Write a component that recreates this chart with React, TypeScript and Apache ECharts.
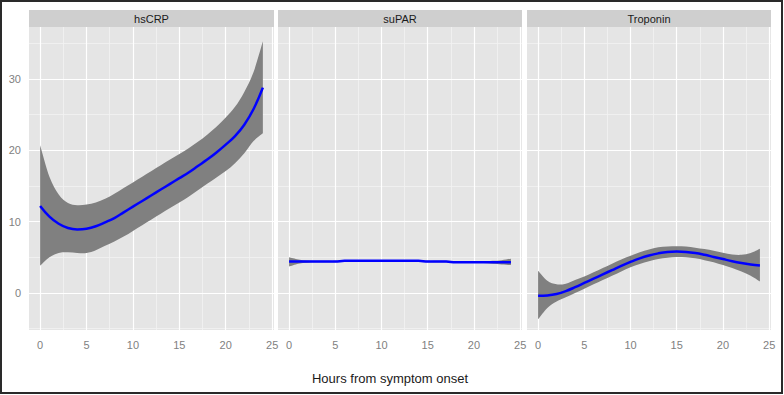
import React, { useEffect, useRef } from "react";
import * as echarts from "echarts";

const panels = ["hsCRP", "suPAR", "Troponin"];
const hours = [0, 1, 2, 3, 4, 5, 6, 7, 8, 9, 10, 11, 12, 13, 14, 15, 16, 17, 18, 19, 20, 21, 22, 23, 24];

const hsCRPFit = [12.2, 10.7, 9.7, 9.1, 8.9, 9.0, 9.35, 9.9, 10.5, 11.3, 12.1, 12.9, 13.7, 14.5, 15.3, 16.1, 16.9, 17.8, 18.7, 19.7, 20.8, 22.0, 23.6, 25.8, 28.8];
const hsCRPUpper = [20.7, 16.3, 13.8, 12.6, 12.3, 12.4, 12.7, 13.2, 13.9, 14.7, 15.5, 16.3, 17.1, 17.9, 18.7, 19.5, 20.3, 21.2, 22.2, 23.3, 24.6, 26.1, 28.2, 31.0, 35.3];
const hsCRPLower = [3.8, 5.0, 5.6, 5.7, 5.6, 5.6, 6.0, 6.6, 7.2, 7.9, 8.7, 9.5, 10.3, 11.1, 11.9, 12.7, 13.5, 14.4, 15.3, 16.2, 17.1, 18.2, 19.6, 21.3, 22.4];

const suPARFit = [4.4, 4.4, 4.4, 4.4, 4.4, 4.4, 4.5, 4.5, 4.5, 4.5, 4.5, 4.5, 4.5, 4.5, 4.5, 4.4, 4.4, 4.4, 4.3, 4.3, 4.3, 4.3, 4.3, 4.3, 4.3];
const suPARUpper = [5.0, 4.7, 4.55, 4.5, 4.5, 4.5, 4.6, 4.6, 4.6, 4.6, 4.6, 4.6, 4.6, 4.6, 4.6, 4.5, 4.5, 4.5, 4.4, 4.4, 4.4, 4.4, 4.5, 4.6, 4.8];
const suPARLower = [3.7, 4.1, 4.25, 4.3, 4.3, 4.3, 4.4, 4.4, 4.4, 4.4, 4.4, 4.4, 4.4, 4.4, 4.4, 4.3, 4.3, 4.3, 4.2, 4.2, 4.2, 4.2, 4.1, 4.0, 3.9];

const tropFit = [-0.4, -0.35, -0.15, 0.25, 0.8, 1.4, 2.0, 2.6, 3.2, 3.8, 4.35, 4.85, 5.25, 5.55, 5.75, 5.8, 5.75, 5.6, 5.35, 5.05, 4.75, 4.45, 4.2, 4.0, 3.85];
const tropUpper = [3.1, 1.7, 1.2, 1.3, 1.8, 2.3, 2.9, 3.5, 4.1, 4.7, 5.2, 5.7, 6.1, 6.4, 6.5, 6.55, 6.5, 6.35, 6.15, 5.9, 5.65, 5.4, 5.35, 5.6, 6.2];
const tropLower = [-3.7, -2.1, -1.2, -0.6, 0.0, 0.6, 1.2, 1.8, 2.4, 3.0, 3.6, 4.05, 4.45, 4.75, 4.95, 5.05, 5.0, 4.85, 4.6, 4.3, 3.9, 3.5, 3.0, 2.4, 1.6];

const fits = [hsCRPFit, suPARFit, tropFit];
const uppers = [hsCRPUpper, suPARUpper, tropUpper];
const lowers = [hsCRPLower, suPARLower, tropLower];

const xTicks = [0, 5, 10, 15, 20, 25];
const xMinor = [2.5, 7.5, 12.5, 17.5, 22.5];
const yTicks = [0, 10, 20, 30];
const yMinor = [-5, 5, 15, 25, 35];
const xTitle = "Hours from symptom onset";

const X_MIN = -1.2;
const X_MAX = 25.2;
const Y_MIN = -5.2;
const Y_MAX = 37.3;

const FONT = "'Liberation Sans', Arial, sans-serif";

// Catmull-Rom style bezier path through pixel points (rendering only)
function curveThrough(pts: number[][], startCmd: string): string {
  let d = `${startCmd}${pts[0][0].toFixed(2)},${pts[0][1].toFixed(2)}`;
  const n = pts.length;
  for (let k = 0; k < n - 1; k++) {
    const p0 = pts[Math.max(0, k - 1)];
    const p1 = pts[k];
    const p2 = pts[k + 1];
    const p3 = pts[Math.min(n - 1, k + 2)];
    const c1x = p1[0] + (p2[0] - p0[0]) / 6;
    const c1y = p1[1] + (p2[1] - p0[1]) / 6;
    const c2x = p2[0] - (p3[0] - p1[0]) / 6;
    const c2y = p2[1] - (p3[1] - p1[1]) / 6;
    d += ` C${c1x.toFixed(2)},${c1y.toFixed(2)} ${c2x.toFixed(2)},${c2y.toFixed(2)} ${p2[0].toFixed(2)},${p2[1].toFixed(2)}`;
  }
  return d;
}

export default function App() {
  const ref = useRef<HTMLDivElement>(null);

  useEffect(() => {
    if (!ref.current) return;
    const chart = echarts.init(ref.current, undefined, { renderer: "svg" });

    const lefts = [29, 278, 527];
    const widths = [245, 244, 244];
    const top = 27;
    const height = 303;

    const grids = lefts.map((l, i) => ({
      left: l,
      top,
      width: widths[i],
      height,
      show: true,
      backgroundColor: "#E5E5E5",
      borderWidth: 0,
    }));

    const xAxes = lefts.map((_, i) => ({
      type: "value",
      gridIndex: i,
      min: X_MIN,
      max: X_MAX,
      axisLine: { show: false },
      splitLine: { show: false },
      axisTick: { show: true, customValues: xTicks, length: 4, lineStyle: { color: "#7F7F7F" } },
      axisLabel: { show: true, customValues: xTicks, color: "#7F7F7F", fontSize: 11, margin: 9, fontFamily: FONT },
    }));

    const yAxes = lefts.map((_, i) => ({
      type: "value",
      gridIndex: i,
      min: Y_MIN,
      max: Y_MAX,
      axisLine: { show: false },
      splitLine: { show: false },
      axisTick: { show: i === 0, customValues: yTicks, length: 4, lineStyle: { color: "#7F7F7F" } },
      axisLabel: { show: i === 0, customValues: yTicks, color: "#7F7F7F", fontSize: 11, margin: 8, fontFamily: FONT },
    }));

    const series: any[] = [];
    panels.forEach((_, i) => {
      const minorStyle = { color: "#F2F2F2", width: 0.8, type: "solid" };
      const majorStyle = { color: "#FFFFFF", width: 1.2, type: "solid" };
      const mlData: any[] = [
        ...xMinor.map((v) => ({ xAxis: v, lineStyle: minorStyle })),
        ...yMinor.map((v) => ({ yAxis: v, lineStyle: minorStyle })),
        ...xTicks.map((v) => ({ xAxis: v, lineStyle: majorStyle })),
        ...yTicks.map((v) => ({ yAxis: v, lineStyle: majorStyle })),
      ];
      series.push({
        type: "line",
        xAxisIndex: i,
        yAxisIndex: i,
        z: 1,
        data: hours.map((h, k) => [h, fits[i][k]]),
        showSymbol: false,
        symbol: "none",
        lineStyle: { opacity: 0 },
        silent: true,
        markLine: {
          silent: true,
          z: 1,
          symbol: ["none", "none"],
          label: { show: false },
          emphasis: { disabled: true },
          animation: false,
          lineStyle: { type: "solid" },
          data: mlData,
        },
      });
      const up = uppers[i];
      const lo = lowers[i];
      series.push({
        type: "custom",
        xAxisIndex: i,
        yAxisIndex: i,
        z: 2,
        silent: true,
        data: hours.map((h, k) => [h, lo[k], up[k]]),
        renderItem: (params: any, api: any) => {
          if (params.dataIndex !== 0) return null;
          const upPts: number[][] = [];
          const loPts: number[][] = [];
          for (let k = 0; k < hours.length; k++) upPts.push(api.coord([hours[k], up[k]]));
          for (let k = hours.length - 1; k >= 0; k--) loPts.push(api.coord([hours[k], lo[k]]));
          const d = curveThrough(upPts, "M") + " " + curveThrough(loPts, "L") + " Z";
          return {
            type: "path",
            shape: { pathData: d },
            style: { fill: "#808080", stroke: "none" },
          };
        },
      });
      series.push({
        type: "line",
        xAxisIndex: i,
        yAxisIndex: i,
        z: 3,
        data: hours.map((h, k) => [h, fits[i][k]]),
        symbol: "none",
        smooth: 0.4,
        lineStyle: { color: "#0000FF", width: 2.5 },
        silent: true,
      });
    });

    const graphics: any[] = [
      {
        type: "rect",
        shape: { x: 1, y: 1, width: 781, height: 392 },
        style: { fill: "none", stroke: "#2A2A2A", lineWidth: 2 },
        silent: true,
      },
      {
        type: "text",
        x: 390,
        y: 378,
        style: { text: xTitle, align: "center", verticalAlign: "middle", fill: "#1A1A1A", font: "13px " + FONT },
        silent: true,
      },
    ];
    panels.forEach((p, i) => {
      graphics.push({
        type: "rect",
        shape: { x: lefts[i], y: 10, width: widths[i], height: 17 },
        style: { fill: "#CFCFCF" },
        silent: true,
      });
      graphics.push({
        type: "text",
        x: lefts[i] + widths[i] / 2,
        y: 18.5,
        style: { text: p, align: "center", verticalAlign: "middle", fill: "#1A1A1A", font: "11px " + FONT },
        silent: true,
      });
    });

    chart.setOption({
      animation: false,
      backgroundColor: "#FFFFFF",
      grid: grids,
      xAxis: xAxes,
      yAxis: yAxes,
      series,
      graphic: graphics,
    });

    return () => chart.dispose();
  }, []);

  return (
    <div
      ref={ref}
      style={{ position: "absolute", left: 0, top: 0, width: 784, height: 395, background: "#fff" }}
    />
  );
}
